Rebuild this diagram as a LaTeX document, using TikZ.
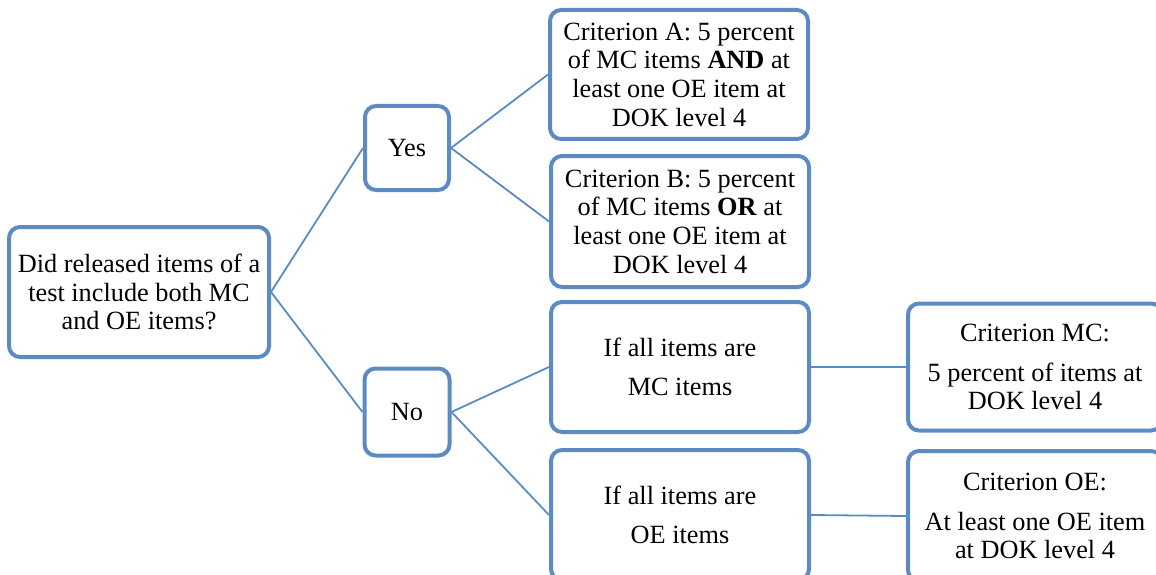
\documentclass[tikz,border=0pt]{standalone}
\usepackage{fontspec}
\setmainfont{Liberation Serif}
\definecolor{boxblue}{RGB}{92,139,196}
\begin{document}
\begin{tikzpicture}[x=1pt,y=-1pt,
  box/.style={draw=boxblue, line width=4pt, rounded corners=11pt, fill=white,
    align=center, inner sep=0pt, font=\fontsize{26.3}{28.7}\selectfont},
  conn/.style={draw=boxblue, line width=1.8pt}]
\useasboundingbox (0,0) rectangle (1156,575);
\clip (0,0) rectangle (1156,575);
\node[box, minimum width=260, minimum height=130] (root) at (139,292)
  {Did released items of a\\test include both MC\\and OE items?};
\node[box, minimum width=84, minimum height=84] (yes) at (407,148) {Yes};
\node[box, minimum width=85, minimum height=87] (no) at (407,412) {No};
\node[box, minimum width=258, minimum height=129] (A) at (679,74.5)
  {Criterion A: 5 percent\\of MC items \textbf{AND} at\\least one OE item at\\DOK level 4};
\node[box, minimum width=258, minimum height=131] (B) at (680,221.5)
  {Criterion B: 5 percent\\of MC items \textbf{OR} at\\least one OE item at\\DOK level 4};
\node[box, minimum width=258, minimum height=130] (MC) at (680,367)
  {If all items are\\[11pt]MC items};
\node[box, minimum width=258, minimum height=130] (OE) at (680,515)
  {If all items are\\[11pt]OE items};
\node[box, minimum width=254, minimum height=127] (CMC) at (1035,367)
  {Criterion MC:\\[11pt]5 percent of items at\\DOK level 4};
\node[box, minimum width=254, minimum height=130] (COE) at (1035,516)
  {Criterion OE:\\[11pt]At least one OE item\\at DOK level 4};
\draw[conn] (root.east) -- (yes.west);
\draw[conn] (root.east) -- (no.west);
\draw[conn] (yes.east) -- (A.west);
\draw[conn] (yes.east) -- (B.west);
\draw[conn] (no.east) -- (MC.west);
\draw[conn] (no.east) -- (OE.west);
\draw[conn] (MC.east) -- (CMC.west);
\draw[conn] (OE.east) -- (COE.west);
\end{tikzpicture}
\end{document}
